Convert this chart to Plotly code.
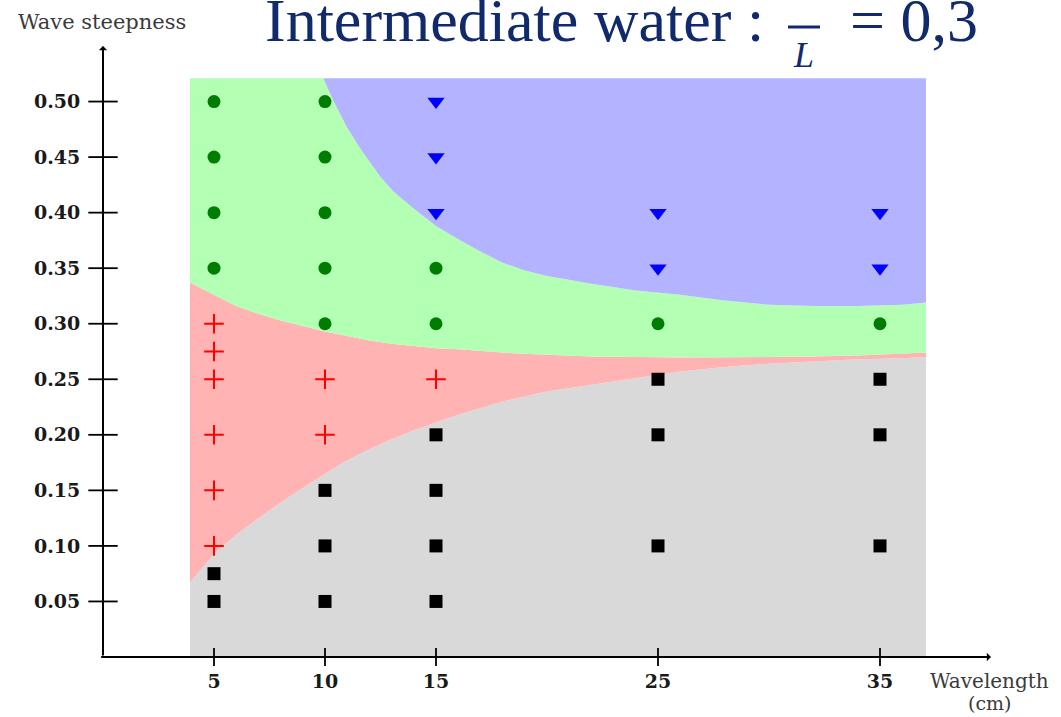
import plotly.graph_objects as go

# ---------------- data ----------------
x_ticks = [5, 10, 15, 25, 35]
x_tick_labels = ["5", "10", "15", "25", "35"]
y_ticks = [0.05, 0.10, 0.15, 0.20, 0.25, 0.30, 0.35, 0.40, 0.45, 0.50]
y_tick_labels = ["0.05", "0.10", "0.15", "0.20", "0.25", "0.30", "0.35", "0.40", "0.45", "0.50"]

# extent of the coloured map
region_x = [3.92, 37.07]
region_top = 0.521

# boundaries between coloured regions (wavelength cm -> steepness)
bnd_x = [3.92, 5, 6, 7, 8, 9, 10, 11, 12, 13, 14, 15, 16, 18, 20, 22, 24, 26, 28, 30, 32, 34, 36, 37.07]
lower_y = [0.067, 0.093, 0.110, 0.125, 0.139, 0.152, 0.165, 0.177, 0.187, 0.196, 0.204, 0.211,
           0.218, 0.230, 0.239, 0.245, 0.251, 0.257, 0.261, 0.264, 0.266, 0.268, 0.269, 0.270]
middle_y = [0.337, 0.326, 0.316, 0.309, 0.303, 0.298, 0.293, 0.289, 0.285, 0.282, 0.280, 0.278,
            0.277, 0.274, 0.272, 0.2705, 0.270, 0.2695, 0.2695, 0.270, 0.2705, 0.2715, 0.273, 0.274]
upper_x = [9.92, 10.37, 10.98, 11.58, 12.0, 12.5, 13.08, 13.98, 15, 16, 17, 18, 19, 20, 22, 24, 26,
           28, 30, 32, 34, 36, 37.07]
upper_y = [0.521, 0.501, 0.477, 0.458, 0.446, 0.432, 0.419, 0.404, 0.388, 0.376, 0.365, 0.355, 0.348,
           0.343, 0.336, 0.330, 0.326, 0.321, 0.317, 0.316, 0.316, 0.317, 0.319]

# experimental points
green_x = [5, 5, 5, 5, 10, 10, 10, 10, 10, 15, 15, 25, 35]
green_y = [0.50, 0.45, 0.40, 0.35, 0.50, 0.45, 0.40, 0.35, 0.30, 0.35, 0.30, 0.30, 0.30]
blue_x = [15, 15, 15, 25, 25, 35, 35]
blue_y = [0.50, 0.45, 0.40, 0.40, 0.35, 0.40, 0.35]
red_x = [5, 5, 5, 5, 5, 5, 10, 10, 15]
red_y = [0.30, 0.275, 0.25, 0.20, 0.15, 0.10, 0.25, 0.20, 0.25]
black_x = [5, 5, 10, 10, 10, 15, 15, 15, 15, 25, 25, 25, 35, 35, 35]
black_y = [0.075, 0.05, 0.15, 0.10, 0.05, 0.20, 0.15, 0.10, 0.05, 0.25, 0.20, 0.10, 0.25, 0.20, 0.10]

# ---------------- layout geometry ----------------
W, H = 1061, 717
ML, MR, MT, MB = 103, 70, 46, 60
PW, PH = W - ML - MR, H - MT - MB
X_RANGE = [0, 40]
Y_RANGE = [0, 0.55]


def px_x(p):
    return (p - ML) / PW


def px_y(p):
    return (H - MB - p) / PH


NAVY = "#102a6b"
SERIF = "DejaVu Serif"

fig = go.Figure()

# coloured regions
x0, x1 = region_x
gray_px = [x0] + bnd_x + [x1, x0]
gray_py = [0] + lower_y + [0, 0]
red_px = bnd_x + bnd_x[::-1]
red_py = lower_y + middle_y[::-1]
green_px = bnd_x + upper_x[::-1] + [x0]
green_py = middle_y + upper_y[::-1] + [region_top]
blue_px = upper_x + [x1]
blue_py = upper_y + [region_top]

for xs, ys, col in [(gray_px, gray_py, "#d9d9d9"), (red_px, red_py, "#ffb3b3"),
                    (green_px, green_py, "#b3ffb3"), (blue_px, blue_py, "#b3b3ff")]:
    fig.add_trace(go.Scatter(x=xs, y=ys, mode="lines", fill="toself", fillcolor=col,
                             line=dict(width=0, color=col), hoverinfo="skip"))

# markers
fig.add_trace(go.Scatter(x=green_x, y=green_y, mode="markers",
                         marker=dict(symbol="circle", size=13, color="#007d00")))
fig.add_trace(go.Scatter(x=blue_x, y=blue_y, mode="markers",
                         marker=dict(symbol="triangle-down", size=15, color="#0000ff")))
fig.add_trace(go.Scatter(x=red_x, y=red_y, mode="markers",
                         marker=dict(symbol="cross-thin", size=14, color="#ff0000",
                                     line=dict(width=2, color="#ff0000"))))
fig.add_trace(go.Scatter(x=black_x, y=black_y, mode="markers",
                         marker=dict(symbol="square", size=13, color="#000000")))

# tick marks crossing the axes
fig.add_trace(go.Scatter(x=[0] * len(y_ticks), y=y_ticks, mode="markers", cliponaxis=False,
                         marker=dict(symbol="line-ew", size=21, line=dict(width=1.8, color="black"))))
fig.add_trace(go.Scatter(x=x_ticks, y=[0] * len(x_ticks), mode="markers", cliponaxis=False,
                         marker=dict(symbol="line-ns", size=13, line=dict(width=1.8, color="black"))))

annotations = []
# axis lines with arrow heads
annotations.append(dict(x=0, y=0.55, ax=0, ay=0, xref="x", yref="y", axref="x", ayref="y",
                        showarrow=True, arrowhead=1, arrowsize=0.7, arrowwidth=2, arrowcolor="black", text=""))
annotations.append(dict(x=40, y=0, ax=-0.15, ay=0, xref="x", yref="y", axref="x", ayref="y",
                        showarrow=True, arrowhead=1, arrowsize=0.7, arrowwidth=2, arrowcolor="black", text=""))

# axis titles
annotations.append(dict(x=px_x(102), y=px_y(22), xref="paper", yref="paper", text="Wave steepness",
                        showarrow=False, font=dict(family=SERIF, size=21, color="#3a3a3a"),
                        xanchor="center", yanchor="middle"))
annotations.append(dict(x=px_x(989), y=px_y(681), xref="paper", yref="paper", text="Wavelength",
                        showarrow=False, font=dict(family=SERIF, size=20, color="#3a3a3a"),
                        xanchor="center", yanchor="middle"))
annotations.append(dict(x=px_x(989), y=px_y(716), xref="paper", yref="paper", text="(cm)",
                        showarrow=False, font=dict(family=SERIF, size=19, color="#3a3a3a"),
                        xanchor="center", yanchor="bottom"))

# title (the numerator is cut by the top of the picture)
TF = "Liberation Serif"
annotations.append(dict(x=px_x(514), y=px_y(20), xref="paper", yref="paper", text="Intermediate water :",
                        showarrow=False, font=dict(family=TF, size=62, color=NAVY),
                        xanchor="center", yanchor="middle"))
annotations.append(dict(x=px_x(914), y=px_y(20), xref="paper", yref="paper", text="= 0,3",
                        showarrow=False, font=dict(family=TF, size=62, color=NAVY),
                        xanchor="center", yanchor="middle"))
annotations.append(dict(x=px_x(803), y=px_y(55), xref="paper", yref="paper", text="<i>L</i>",
                        showarrow=False, font=dict(family=TF, size=36, color=NAVY),
                        xanchor="center", yanchor="middle"))

shapes = [dict(type="line", xref="paper", yref="paper", x0=px_x(788), x1=px_x(820),
               y0=px_y(27), y1=px_y(27), line=dict(color=NAVY, width=3))]

fig.update_layout(
    width=W, height=H,
    margin=dict(l=ML, r=MR, t=MT, b=MB, pad=0),
    paper_bgcolor="white", plot_bgcolor="white",
    showlegend=False,
    annotations=annotations,
    shapes=shapes,
    xaxis=dict(range=X_RANGE, tickmode="array", tickvals=x_ticks, ticktext=x_tick_labels,
               showgrid=False, zeroline=False, showline=False,
               ticks="outside", ticklen=7, tickcolor="rgba(0,0,0,0)",
               tickfont=dict(family=SERIF, size=19, color="#1a1a1a", weight="bold")),
    yaxis=dict(range=Y_RANGE, tickmode="array", tickvals=y_ticks, ticktext=y_tick_labels,
               showgrid=False, zeroline=False, showline=False,
               ticks="outside", ticklen=18, tickcolor="rgba(0,0,0,0)",
               tickfont=dict(family=SERIF, size=19, color="#1a1a1a", weight="bold")),
)

fig.write_html("out.html")
